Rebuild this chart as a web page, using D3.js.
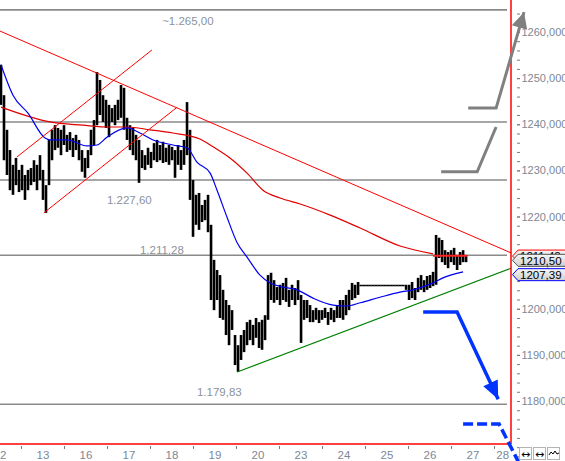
<!DOCTYPE html>
<html>
<head>
<meta charset="utf-8">
<script src="https://cdn.jsdelivr.net/npm/d3@7"></script>
<style>
body { margin: 0; background: #fff; }
svg { display: block; font-family: "Liberation Sans", Arial, sans-serif; }
</style>
</head>
<body>
<svg id="chart" width="565" height="461"></svg>
<script>
// trading days shown on the time axis
var days = ["12", "13", "16", "17", "18", "19", "20", "23", "24", "25", "26", "27", "28"];
var firstBarDay = 0.523, barsPerDay = 14.33;

// bar highs / lows (one bar per slot)
var barHigh = [
	1252.9, 1246.3, 1238.8, 1234.4, 1231.2, 1232.7, 1230.1, 1231.2, 1229.0, 1230.1, 1230.5, 1232.2, 1231.2, 1233.3, 1230.1, 1226.8,
	1236.6, 1238.8, 1239.8, 1239.2, 1238.8, 1239.8, 1237.7, 1238.3, 1237.0, 1237.7, 1236.6, 1234.4, 1232.7, 1234.4, 1238.8, 1240.9,
	1251.3, 1249.6, 1246.3, 1245.3, 1244.2, 1243.5, 1244.2, 1245.3, 1248.5, 1247.9, 1241.4, 1239.8, 1239.2, 1237.7, 1236.6, 1234.4,
	1233.3, 1234.9, 1234.0, 1235.9, 1236.6, 1235.5, 1236.2, 1234.9, 1235.5, 1235.1, 1234.4, 1235.5, 1234.4, 1236.6, 1244.8, 1238.8,
	1227.9, 1224.7, 1225.1, 1222.5, 1223.6, 1224.7, 1218.2, 1210.6, 1208.4, 1207.3, 1204.1, 1201.9, 1200.8, 1199.7, 1194.3, 1192.1,
	1194.3, 1195.4, 1197.1, 1197.6, 1196.5, 1198.0, 1197.1, 1197.6, 1198.6, 1207.3, 1207.8, 1206.2, 1204.7, 1205.2, 1205.6, 1206.7,
	1204.1, 1205.2, 1204.5, 1206.2, 1203.0, 1201.9, 1201.9, 1200.8, 1199.7, 1200.2, 1199.7, 1199.7, 1200.2, 1199.3, 1200.2, 1199.7,
	1200.8, 1201.9, 1201.9, 1203.0, 1204.1, 1205.6, 1205.2, 1205.8,
	1205.2, 1205.2, 1205.2, 1205.2, 1205.2, 1205.2, 1205.2, 1205.2, 1205.2, 1205.2, 1205.2, 1205.2, 1205.2, 1205.2, 1205.2, 1205.2,
	1205.2, 1205.8, 1204.5, 1206.7, 1207.3, 1206.2, 1207.1, 1207.3, 1208.0, 1216.0, 1215.4, 1214.9, 1212.7, 1212.3, 1212.7, 1213.2,
	1211.6, 1212.3, 1212.7, 1211.6
];
var barLow = [
	1244.2, 1232.2, 1229.0, 1225.7, 1224.7, 1226.8, 1225.3, 1225.7, 1223.6, 1225.7, 1226.8, 1227.5, 1225.7, 1227.9, 1223.6, 1220.8,
	1226.8, 1232.2, 1234.4, 1234.9, 1233.3, 1235.5, 1234.0, 1234.4, 1232.9, 1234.4, 1232.2, 1229.7, 1228.4, 1230.5, 1233.3, 1235.5,
	1239.8, 1242.0, 1240.5, 1239.2, 1237.2, 1240.5, 1239.8, 1240.9, 1241.4, 1238.8, 1236.6, 1234.4, 1233.3, 1232.2, 1227.3, 1230.5,
	1230.1, 1231.2, 1230.5, 1232.2, 1231.8, 1232.2, 1231.6, 1231.8, 1231.2, 1232.2, 1228.4, 1231.2, 1230.1, 1231.2, 1233.3, 1223.6,
	1215.6, 1218.2, 1217.1, 1218.8, 1219.2, 1216.6, 1201.9, 1199.7, 1201.9, 1198.0, 1197.6, 1194.3, 1192.1, 1195.4, 1187.8, 1186.3,
	1188.9, 1190.6, 1192.1, 1193.2, 1192.1, 1193.7, 1191.5, 1191.1, 1193.2, 1197.6, 1201.9, 1201.3, 1201.9, 1200.8, 1201.9, 1201.5,
	1200.4, 1201.9, 1200.8, 1201.9, 1192.6, 1197.6, 1198.0, 1197.1, 1197.1, 1197.6, 1196.9, 1197.6, 1198.0, 1196.5, 1197.6, 1197.1,
	1198.0, 1198.0, 1197.6, 1198.6, 1199.7, 1201.9, 1202.3, 1203.0,
	1205.2, 1205.2, 1205.2, 1205.2, 1205.2, 1205.2, 1205.2, 1205.2, 1205.2, 1205.2, 1205.2, 1205.2, 1205.2, 1205.2, 1205.2, 1204.1,
	1201.9, 1202.3, 1201.9, 1203.6, 1204.1, 1203.6, 1204.1, 1204.5, 1204.9, 1205.2, 1211.0, 1210.1, 1209.5, 1208.8, 1210.1, 1209.5,
	1208.4, 1209.5, 1210.1, 1210.1
];

// moving averages as [bar, value]
var maFast = [[0, 1252.9], [4, 1246.3], [9, 1242.4], [14.7, 1237.0], [16.3, 1236.6], [22, 1236.6], [28.7, 1235.3], [32, 1235.5],
	[35.3, 1237.2], [42, 1239.2], [46.3, 1238.1], [50.7, 1236.6], [57.3, 1235.5], [62, 1234.9], [65.3, 1231.8], [69.7, 1229.4],
	[72, 1225.7], [75.3, 1219.9], [78.7, 1214.3], [82, 1211.2], [86.3, 1207.3], [89.7, 1205.6], [94, 1204.7], [98.7, 1204.1],
	[104, 1202.3], [110.7, 1200.8], [115.3, 1200.6], [119.7, 1201.3], [126.3, 1202.5], [133, 1203.6], [137.3, 1204.1],
	[144, 1205.6], [147.3, 1206.7], [154, 1208.0]];
var maSlow = [[0, 1243.7], [9.7, 1241.6], [16.3, 1240.5], [27.3, 1239.8], [36.3, 1239.4], [42, 1239.4], [49.7, 1238.8],
	[57.3, 1238.1], [66.3, 1236.8], [70.7, 1235.1], [76.3, 1232.7], [82, 1229.4], [87.3, 1225.7], [93, 1224.0], [99.7, 1222.7],
	[109.7, 1220.3], [119.7, 1217.5], [133, 1213.6], [144, 1211.9]];
var lastPrice = [[144, 1211.5], [155.3, 1211.5]];

// drawn lines
var levels = [1264.8, 1240.5, 1227.9, 1211.6, 1179.3];
var levelText = [["~1.265,00", 53.7, 1261.5], ["1.227,60", 35.3, 1222.7], ["1.211,28", 46.3, 1211.9], ["1.179,83", 65.3, 1181.1]];
var trendDown = [[-0.33, 1260.2], [170, 1212.1]];
var trendUp = [[78.7, 1186.3], [170, 1208.8]];
var channelTop = [[5.3, 1232.9], [50.3, 1256.1]];
var channelBottom = [[14.3, 1220.8], [58.7, 1243.7]];
var arrowUpBig = [[155.7, 1243.5], [165, 1243.5], [174.3, 1264.3]];
var arrowUpSmall = [[146.7, 1229.7], [158.7, 1229.7], [165, 1239.4]];
var arrowDown = [[140.7, 1199.3], [152, 1199.3], [165.7, 1180.4]];
var arrowDownDash = [[154, 1175.0], [166, 1175.0], [173.7, 1165.2]];
var tags = [["1211,42", 1211.42, "#ff0000"], ["1210,50", 1210.50, "#555555"], ["1207,39", 1207.39, "#0000ff"]];

var svg = d3.select("#chart"),
	plotRight = 511, plotBottom = 444;

var dayX = d3.scaleLinear().domain([0, days.length]).range([-21.5, -21.5 + 43 * days.length]);
var x = function(k) { return dayX(firstBarDay + k / barsPerDay); };
var y = d3.scaleLinear().domain([1180, 1260]).range([401, 32]);
var line = d3.line().x(function(d) { return x(d[0]); }).y(function(d) { return y(d[1]); });

// gray levels
svg.append("g").selectAll("line").data(levels).enter().append("line")
	.attr("x1", 0).attr("x2", 507)
	.attr("y1", function(d) { return y(d); }).attr("y2", function(d) { return y(d); })
	.attr("stroke", "#8a8a8a").attr("stroke-width", 1.6);

svg.append("g").selectAll("text").data(levelText).enter().append("text")
	.attr("x", function(d) { return x(d[1]); })
	.attr("y", function(d) { return y(d[2]); })
	.attr("font-size", 11.5).attr("fill", "#8b939d")
	.text(function(d) { return d[0]; });

// bars
var bars = barHigh.map(function(h, i) { return {k: i, hi: h, lo: barLow[i]}; });
svg.append("g").selectAll("rect").data(bars).enter().append("rect")
	.attr("x", function(d) { return x(d.k) - (d.hi == d.lo ? 1.6 : 1.3); })
	.attr("width", function(d) { return d.hi == d.lo ? 3.2 : 2.6; })
	.attr("y", function(d) { return y(d.hi); })
	.attr("height", function(d) { return Math.max(1.5, y(d.lo) - y(d.hi)); })
	.attr("fill", "#000");

// averages and trend lines
svg.append("path").datum(maSlow).attr("d", line.curve(d3.curveMonotoneX))
	.attr("fill", "none").attr("stroke", "#e00000").attr("stroke-width", 1.2);
svg.append("path").datum(maFast).attr("d", line)
	.attr("fill", "none").attr("stroke", "#0000ee").attr("stroke-width", 1.2);
line.curve(d3.curveLinear);
svg.append("path").datum(lastPrice).attr("d", line)
	.attr("fill", "none").attr("stroke", "#ff2020").attr("stroke-width", 2);

[trendDown, channelTop, channelBottom].forEach(function(seg) {
	svg.append("path").datum(seg).attr("d", line)
		.attr("fill", "none").attr("stroke", "#ff0000").attr("stroke-width", 1);
});
svg.append("path").datum(trendUp).attr("d", line)
	.attr("fill", "none").attr("stroke", "#008000").attr("stroke-width", 1.1);

// frame
svg.append("line").attr("x1", 0).attr("x2", plotRight).attr("y1", plotBottom).attr("y2", plotBottom)
	.attr("stroke", "#ff0000").attr("stroke-width", 1.5);
svg.append("line").attr("x1", plotRight).attr("x2", plotRight).attr("y1", 0).attr("y2", plotBottom)
	.attr("stroke", "#ff0000").attr("stroke-width", 1.5);

// right axis
var yAxis = svg.append("g").attr("transform", "translate(517,0)")
	.call(d3.axisRight(y).tickValues(d3.range(1180, 1261, 10)).tickSize(3).tickPadding(1.5)
		.tickFormat(function(d) { return d3.format(".3f")(d).replace(".", ","); }));
var yMinor = svg.append("g").attr("transform", "translate(517,0)")
	.call(d3.axisRight(y).tickValues(d3.range(1164, 1266, 2)).tickSize(3).tickFormat(""));
[yAxis, yMinor].forEach(function(a) {
	a.select(".domain").remove();
	a.selectAll("line").attr("stroke", "#7a7a7a");
});
yAxis.selectAll("text").attr("fill", "#7d8796").attr("font-size", 11)
	.attr("font-family", "Liberation Sans, Arial, sans-serif");

// bottom axis
var xAxis = svg.append("g").attr("transform", "translate(0," + plotBottom + ")");
xAxis.selectAll("line").data(d3.range(1, days.length)).enter().append("line")
	.attr("x1", function(d) { return dayX(d); }).attr("x2", function(d) { return dayX(d); })
	.attr("y1", 2).attr("y2", 5).attr("stroke", "#7a7a7a");
xAxis.selectAll("text").data(days).enter().append("text")
	.attr("x", function(d, i) { return Math.min(dayX(i + 0.5), (dayX(i) + plotRight) / 2); })
	.attr("y", 15).attr("text-anchor", "middle")
	.attr("font-size", 11.5).attr("fill", "#7d8796")
	.text(function(d) { return d; });

// arrows
var arrowHead = function(pts, color, len, half) {
	var a = pts[pts.length - 2], b = pts[pts.length - 1];
	var p0 = [x(a[0]), y(a[1])], p1 = [x(b[0]), y(b[1])];
	var dx = p1[0] - p0[0], dy = p1[1] - p0[1], L = Math.sqrt(dx * dx + dy * dy);
	var ux = dx / L, uy = dy / L;
	var bx = p1[0] - ux * len, by = p1[1] - uy * len;
	svg.append("polygon")
		.attr("points", [p1, [bx - uy * half, by + ux * half], [bx + uy * half, by - ux * half]].map(function(p) { return p.join(","); }).join(" "))
		.attr("fill", color);
};
svg.append("path").datum(arrowUpBig).attr("d", line)
	.attr("fill", "none").attr("stroke", "#808080").attr("stroke-width", 3);
arrowHead(arrowUpBig, "#808080", 16, 8);
svg.append("path").datum(arrowUpSmall).attr("d", line)
	.attr("fill", "none").attr("stroke", "#808080").attr("stroke-width", 3);
svg.append("path").datum(arrowDown).attr("d", line)
	.attr("fill", "none").attr("stroke", "#0033ff").attr("stroke-width", 3.5);
arrowHead(arrowDown, "#0033ff", 18, 8);
svg.append("path").datum(arrowDownDash).attr("d", line)
	.attr("fill", "none").attr("stroke", "#0033ff").attr("stroke-width", 3.5)
	.attr("stroke-dasharray", "10,4");

// price tags (the later ones sit on top, as in the reference)
var defs = svg.append("defs");
var grad = defs.append("linearGradient").attr("id", "tagFill").attr("x1", 0).attr("x2", 0).attr("y1", 0).attr("y2", 1);
grad.append("stop").attr("offset", "0%").attr("stop-color", "#f6f6f6");
grad.append("stop").attr("offset", "100%").attr("stop-color", "#cfcfcf");
tags.forEach(function(t) {
	var cy = y(t[1]);
	svg.append("polygon")
		.attr("points", [[512.5, cy], [518, cy - 6], [570, cy - 6], [570, cy + 6], [518, cy + 6]].map(function(p) { return p.join(","); }).join(" "))
		.attr("fill", "url(#tagFill)").attr("stroke", t[2]).attr("stroke-width", 1);
	svg.append("text").attr("x", 520).attr("y", cy + 4.2)
		.attr("font-size", 11.5).attr("fill", "#000").text(t[0]);
});

// little toolbar boxes
var icons = svg.append("g");
[519, 533, 547].forEach(function(bx, i) {
	icons.append("rect").attr("x", bx + 0.5).attr("y", 447.5).attr("width", 12).attr("height", 12)
		.attr("fill", "#fff").attr("stroke", "#b4b4b4");
	if (i < 2) {
		icons.append("text").attr("x", bx + 6.5).attr("y", 457.5).attr("text-anchor", "middle")
			.attr("font-size", 11).attr("font-family", "DejaVu Sans").attr("fill", "#000").text("\u2194");
	} else {
		icons.append("path").attr("d", "M" + (bx + 2) + ",455 l2,-3 l2,2 l2,-3 l2,3 l2,-1")
			.attr("fill", "none").attr("stroke", "#000").attr("stroke-width", 1);
	}
});
</script>
</body>
</html>
